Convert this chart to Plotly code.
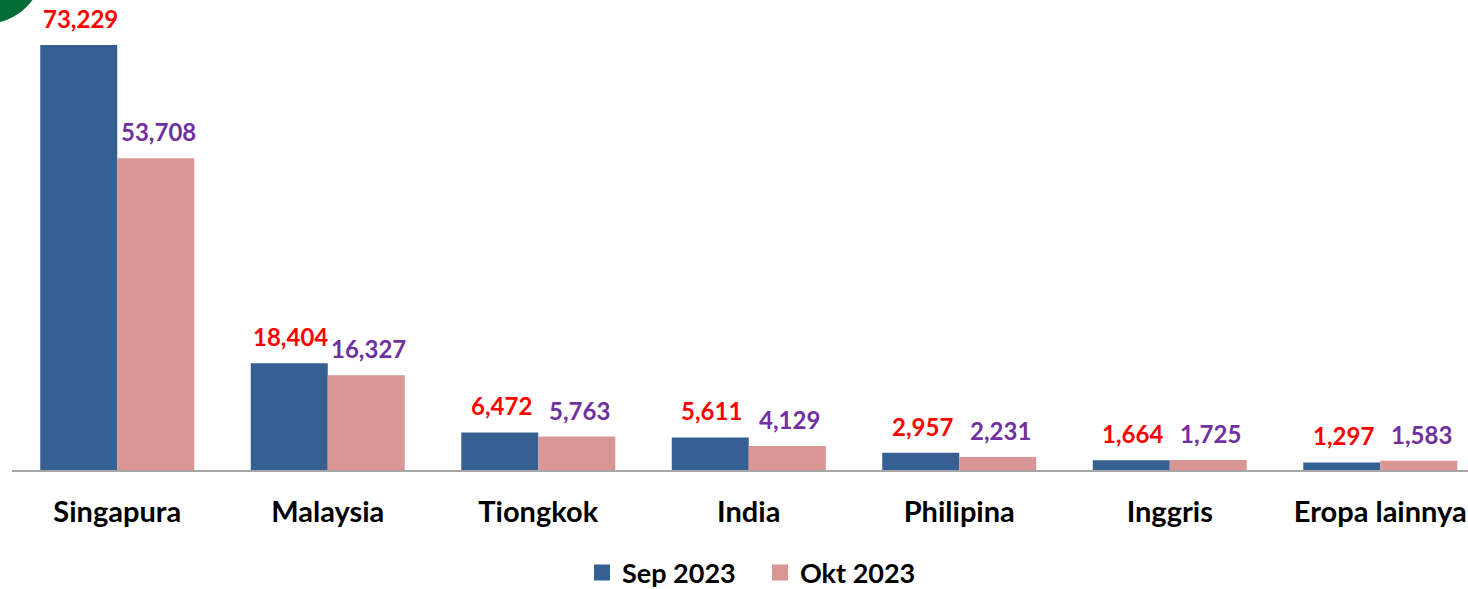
import plotly.graph_objects as go

categories = ["Singapura", "Malaysia", "Tiongkok", "India", "Philipina", "Inggris", "Eropa lainnya"]
sep_2023 = [73229, 18404, 6472, 5611, 2957, 1664, 1297]
okt_2023 = [53708, 16327, 5763, 4129, 2231, 1725, 1583]
series_names = ["Sep 2023", "Okt 2023"]

BLUE = "#376092"
PINK = "#D99694"
RED = "#FF0000"
PURPLE = "#7030A0"
FONT = "Lato"

W, H = 1468, 589
L, R, T, B = 12, 0, 6, 119
pw = W - L - R
ph = H - T - B
STEP = 210.5

fig = go.Figure()
fig.add_trace(go.Bar(x=categories, y=sep_2023, name=series_names[0], showlegend=False,
                     marker=dict(color=BLUE, line=dict(width=0))))
fig.add_trace(go.Bar(x=categories, y=okt_2023, name=series_names[1], showlegend=False,
                     marker=dict(color=PINK, line=dict(width=0))))
# legend entries with larger square swatches
for nm, col in zip(series_names, [BLUE, PINK]):
    fig.add_trace(go.Scatter(x=[None], y=[None], mode="markers", name=nm,
                             marker=dict(symbol="square", size=18, color=col)))

ann = []
for c, v in zip(categories, sep_2023):
    ann.append(dict(x=c, y=v, xref="x", yref="y", text=f"{v:,}", showarrow=False,
                    xshift=-37, yshift=10, yanchor="bottom",
                    font=dict(family=FONT, size=24, color=RED, weight="bold")))
for c, v in zip(categories, okt_2023):
    ann.append(dict(x=c, y=v, xref="x", yref="y", text=f"{v:,}", showarrow=False,
                    xshift=41, yshift=10, yanchor="bottom",
                    font=dict(family=FONT, size=24, color=PURPLE, weight="bold")))

def px2x(px):
    return (px - L) / pw

def py2y(py):
    return (H - B - py) / ph

fig.update_layout(
    width=W, height=H,
    margin=dict(l=L, r=R, t=T, b=B, pad=0, autoexpand=False),
    paper_bgcolor="white", plot_bgcolor="white",
    barmode="group", bargap=1 - 154 / STEP, bargroupgap=0,
    font=dict(family=FONT, color="black"),
    annotations=ann,
    shapes=[dict(type="circle", xref="paper", yref="paper",
                 x0=px2x(-74), x1=px2x(44), y0=py2y(24), y1=py2y(-94),
                 fillcolor="#006B35", line=dict(width=0), layer="above")],
    legend=dict(orientation="h", x=px2x(582), xanchor="left", y=py2y(573), yanchor="middle",
                font=dict(family=FONT, size=27, weight="bold", color="black"),
                itemwidth=30, itemsizing="trace", entrywidth=133, entrywidthmode="pixels",
                traceorder="normal"),
    xaxis=dict(range=[-0.5, -0.5 + pw / STEP], showgrid=False, showline=True, linecolor="#A6A6A6",
               linewidth=2, ticks="", ticklabelstandoff=15, automargin=False,
               tickfont=dict(family=FONT, size=29, weight="bold", color="black")),
    yaxis=dict(range=[0, ph * 73229 / 425.0], showgrid=False, showticklabels=False, zeroline=False,
               showline=False, automargin=False),
)

fig.write_html("out.html", config={"displayModeBar": False},
               post_script="document.body.style.margin='0';document.body.style.overflow='hidden';")
